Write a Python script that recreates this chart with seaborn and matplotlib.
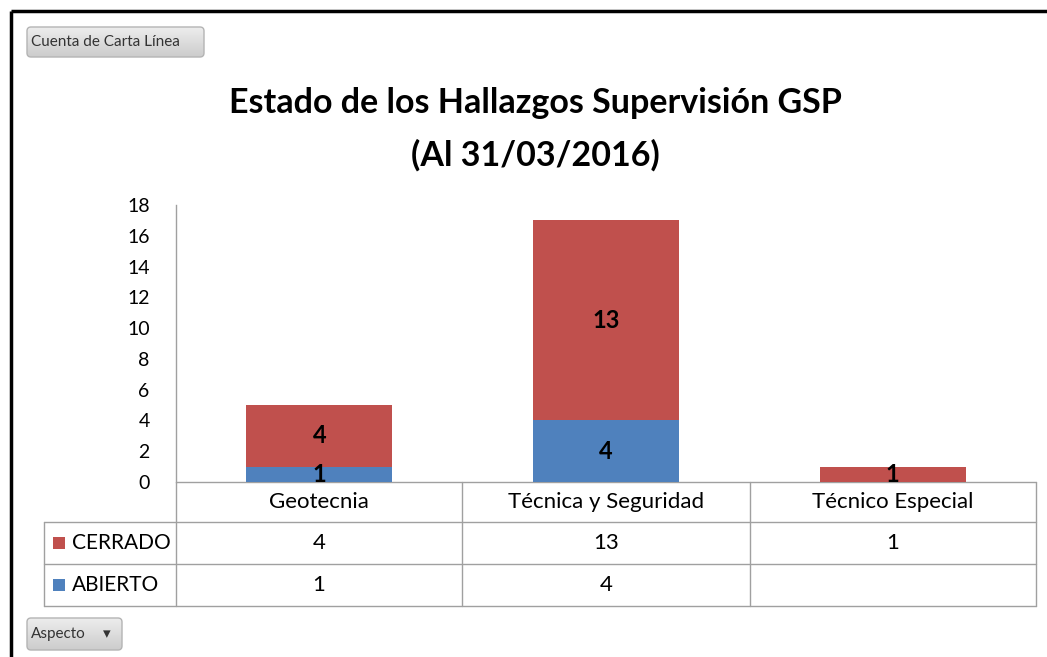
import numpy as np
import pandas as pd
import matplotlib
matplotlib.use("Agg")
import matplotlib.pyplot as plt
from matplotlib.patches import FancyBboxPatch
import seaborn as sns

# ---- data ----
categories = ["Geotecnia", "Técnica y Seguridad", "Técnico Especial"]
cerrado = [4, 13, 1]
abierto = [1, 4, None]
series_names = ["CERRADO", "ABIERTO"]
title_lines = ["Estado de los Hallazgos Supervisión GSP", "(Al 31/03/2016)"]
y_ticks = [0, 2, 4, 6, 8, 10, 12, 14, 16, 18]
button_top = "Cuenta de Carta Línea"
button_bottom = "Aspecto"

RED = "#C0504D"
BLUE = "#4F81BD"
GRID = "#A0A0A0"

sns.set_theme(style="white")
FONT = ["Lato", "DejaVu Sans"]
plt.rcParams["font.family"] = FONT

W, H = 1047, 657
fig = plt.figure(figsize=(W / 100, H / 100), dpi=100)

def fx(px):
    return px / W

def fy(py):
    return 1 - py / H

# main chart axes
x0, x1, ytop, ybot = 176, 1036, 205, 482
ax = fig.add_axes([fx(x0), fy(ybot), fx(x1 - x0), (ybot - ytop) / H])

ab_vals = [v if v is not None else 0 for v in abierto]
totals = [c + a for c, a in zip(cerrado, ab_vals)]
df = pd.DataFrame({"cat": categories, "total": totals, "abierto": ab_vals})

sns.barplot(data=df, x="cat", y="total", color=RED, saturation=1, width=0.51,
            ax=ax, linewidth=0)
sns.barplot(data=df, x="cat", y="abierto", color=BLUE, saturation=1, width=0.51,
            ax=ax, linewidth=0)

ax.set_xlim(-0.5, len(categories) - 0.5)
ax.set_ylim(0, 18)
ax.set_yticks(y_ticks)
ax.set_yticklabels([str(t) for t in y_ticks], fontsize=14, color="#000000")
ax.tick_params(axis="y", length=0, pad=19)
ax.set_xticks([])
ax.set_xlabel("")
ax.set_ylabel("")
for s in ["top", "right", "bottom"]:
    ax.spines[s].set_visible(False)
ax.spines["left"].set_color(GRID)
ax.spines["left"].set_linewidth(1)
ax.patch.set_alpha(0)

# data labels
for i, (c, a) in enumerate(zip(cerrado, abierto)):
    base = a if a is not None else 0
    if a is not None:
        ax.text(i, a / 2, str(a), ha="center", va="center", fontsize=17,
                fontweight="bold", color="black")
    ax.text(i, base + c / 2, str(c), ha="center", va="center", fontsize=17,
            fontweight="bold", color="black")

# overlay axes in pixel coords
ov = fig.add_axes([0, 0, 1, 1], zorder=-1)
ov.set_xlim(0, W)
ov.set_ylim(H, 0)
ov.axis("off")

# border
ov.plot([10.5, 10.5], [10.5, H], color="black", lw=2.5, solid_capstyle="butt")
ov.plot([10.5, W], [10.5, 10.5], color="black", lw=2.5, solid_capstyle="butt")

# title
ov.text(535, 103, title_lines[0], ha="center", va="center", fontsize=24.5,
        fontweight="bold", color="black")
ov.text(535, 155, title_lines[1], ha="center", va="center", fontsize=24.5,
        fontweight="bold", color="black")

# table
col_edges = [176, 462, 750, 1036]
left_edge = 44
row_edges = [482, 522, 564, 606]
lw = 1
ov.plot([176, 1036], [row_edges[0], row_edges[0]], color=GRID, lw=lw)
for r in row_edges[1:]:
    ov.plot([left_edge, 1036], [r, r], color=GRID, lw=lw)
for c in col_edges:
    ov.plot([c, c], [row_edges[0], row_edges[-1]], color=GRID, lw=lw)
ov.plot([left_edge, left_edge], [row_edges[1], row_edges[-1]], color=GRID, lw=lw)

for j, cat in enumerate(categories):
    cx = (col_edges[j] + col_edges[j + 1]) / 2
    ov.text(cx, (row_edges[0] + row_edges[1]) / 2, cat, ha="center", va="center",
            fontsize=16, color="black")
rows = [(series_names[0], cerrado, RED), (series_names[1], abierto, BLUE)]
for k, (name, vals, col) in enumerate(rows):
    cy = (row_edges[k + 1] + row_edges[k + 2]) / 2
    ov.add_patch(plt.Rectangle((53, cy - 6), 12, 12, color=col, lw=0))
    ov.text(72, cy, name, ha="left", va="center", fontsize=15, color="black")
    for j, v in enumerate(vals):
        if v is None:
            continue
        cx = (col_edges[j] + col_edges[j + 1]) / 2
        ov.text(cx, cy, str(v), ha="center", va="center", fontsize=16, color="black")

# buttons with gradient
def button(xa, ya, xb, yb, label, arrow=False):
    patch = FancyBboxPatch((xa, ya), xb - xa, yb - ya,
                           boxstyle="round,pad=0,rounding_size=4",
                           facecolor="none", edgecolor="#B4B4B4", lw=1, zorder=3)
    ov.add_patch(patch)
    grad = np.linspace(0.93, 0.80, 50).reshape(-1, 1)
    im = ov.imshow(np.dstack([grad, grad, grad]), extent=[xa, xb, yb, ya],
                   aspect="auto", zorder=2, interpolation="bilinear")
    im.set_clip_path(patch)
    ov.text(xa + 4, (ya + yb) / 2, label, ha="left", va="center", fontsize=11,
            color="#333333", zorder=4)
    if arrow:
        ov.text(xb - 15, (ya + yb) / 2, "▾", ha="center", va="center", fontsize=11,
                color="#333333", zorder=4, family="DejaVu Sans")

button(27, 27, 204, 57, button_top)
button(27, 618, 122, 650, button_bottom, arrow=True)
ov.set_xlim(0, W)
ov.set_ylim(H, 0)

fig.savefig("out.png", dpi=100)
